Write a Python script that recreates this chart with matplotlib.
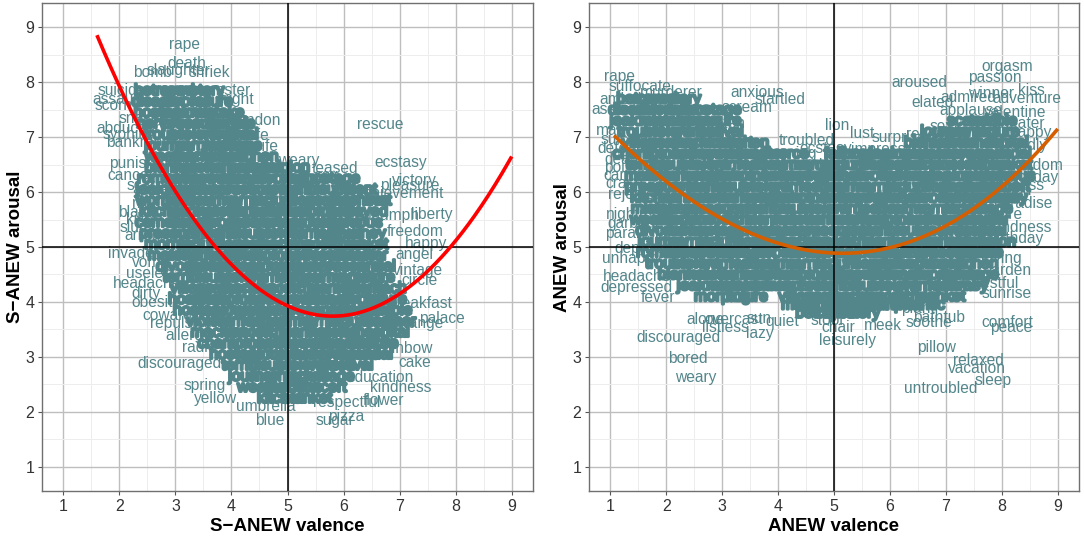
import numpy as np
import matplotlib
matplotlib.use("Agg")
import matplotlib.pyplot as plt
import matplotlib.patheffects as pe
from matplotlib.ticker import MultipleLocator

plt.rcParams['font.family'] = ['Liberation Sans', 'DejaVu Sans']

TEAL = "#53868B"

# ---------------- S-ANEW (left panel): readable words ----------------
s_words = ["rape", "death", "slaughter", "bomb", "shriek", "suicide", "monster",
           "assault", "fright", "scorn", "snake", "abandon", "abduction", "syphilis",
           "strife", "bankrupt", "knife", "weary", "punishment", "teased", "sex",
           "cancer", "scared", "spider", "mutilate", "blackmail", "killer", "slum",
           "arrogant", "invader", "vomit", "useless", "headache", "dirty", "obesity",
           "coward", "repulsive", "allergy", "radio", "discouraged", "spring", "yellow",
           "umbrella", "blue", "sugar", "pizza", "respectful", "flower", "kindness",
           "education", "cake", "rainbow", "orange", "palace", "breakfast", "circle",
           "vintage", "angel", "happy", "freedom", "triumph", "liberty", "achievement",
           "pleasure", "victory", "ecstasy", "rescue"]
s_val = [3.16, 3.2, 3.05, 2.6, 3.6, 2.05, 3.85,
         1.95, 4.1, 1.9, 2.35, 4.35, 2.2, 2.15,
         4.38, 2.3, 4.54, 5.2, 2.54, 5.85, 5.7,
         2.2, 2.54, 2.62, 2.71, 2.55, 2.4, 2.3,
         2.6, 2.25, 2.55, 2.59, 2.5, 2.48, 2.66,
         2.85, 3.1, 3.23, 3.43, 3.07, 3.52, 3.71,
         4.62, 4.68, 5.84, 6.05, 6.05, 6.71, 7.02,
         6.66, 7.27, 7.1, 7.36, 7.75, 7.36, 7.36,
         7.32, 7.27, 7.48, 7.27, 6.9, 7.57, 7.0,
         7.18, 7.27, 7.02, 6.66]
s_aro = [8.68, 8.34, 8.22, 8.17, 8.17, 7.85, 7.85,
         7.68, 7.68, 7.57, 7.33, 7.3, 7.15, 7.05,
         7.03, 6.9, 6.83, 6.57, 6.52, 6.43, 6.3,
         6.3, 6.12, 5.97, 5.8, 5.62, 5.5, 5.36,
         5.21, 4.88, 4.72, 4.52, 4.34, 4.15, 3.99,
         3.75, 3.61, 3.39, 3.17, 2.88, 2.48, 2.25,
         2.1, 1.85, 1.85, 1.92, 2.17, 2.21, 2.45,
         2.63, 2.9, 3.15, 3.61, 3.7, 3.97, 4.39,
         4.57, 4.86, 5.06, 5.28, 5.57, 5.59, 5.97,
         6.12, 6.21, 6.54, 7.23]

# S-ANEW dense (overlapping, unreadable) words: arousal row -> valences
s_dense_rows = [
    (7.85, [2.8, 3.3]),
    (7.65, [2.7, 3.2, 3.65]),
    (7.45, [2.75, 3.25, 3.75]),
    (7.25, [2.8, 3.3, 3.8, 4.0]),
    (7.05, [2.85, 3.35, 3.85, 4.05]),
    (6.85, [2.9, 3.4, 3.9, 4.15]),
    (6.65, [2.95, 3.45, 3.95, 4.4]),
    (6.45, [2.9, 3.4, 3.9, 4.4, 4.8]),
    (6.25, [2.85, 3.35, 3.85, 4.35, 4.85, 5.35, 5.8]),
    (6.05, [2.8, 3.3, 3.8, 4.3, 4.8, 5.3, 5.8, 6.2]),
    (5.85, [2.75, 3.25, 3.75, 4.25, 4.75, 5.25, 5.75, 6.25, 6.4]),
    (5.65, [2.8, 3.3, 3.8, 4.3, 4.8, 5.3, 5.8, 6.25]),
    (5.45, [2.85, 3.35, 3.85, 4.35, 4.85, 5.35, 5.85, 6.2]),
    (5.25, [2.9, 3.4, 3.9, 4.4, 4.9, 5.4, 5.9, 6.3]),
    (5.05, [2.95, 3.45, 3.95, 4.45, 4.95, 5.45, 5.95, 6.35]),
    (4.85, [3.0, 3.5, 4.0, 4.5, 5.0, 5.5, 6.0, 6.3]),
    (4.65, [3.1, 3.6, 4.1, 4.6, 5.1, 5.6, 6.1, 6.45]),
    (4.45, [3.2, 3.7, 4.2, 4.7, 5.2, 5.7, 6.2, 6.5]),
    (4.25, [3.3, 3.8, 4.3, 4.8, 5.3, 5.8, 6.3, 6.6]),
    (4.05, [3.35, 3.85, 4.35, 4.85, 5.35, 5.85, 6.35, 6.75]),
    (3.85, [3.45, 3.95, 4.45, 4.95, 5.45, 5.95, 6.45, 6.8]),
    (3.65, [3.6, 4.1, 4.6, 5.1, 5.6, 6.1, 6.6, 6.8]),
    (3.45, [3.8, 4.3, 4.8, 5.3, 5.8, 6.3, 6.7]),
    (3.25, [4.0, 4.5, 5.0, 5.5, 6.0, 6.5, 6.6]),
    (3.05, [4.1, 4.6, 5.1, 5.6, 6.1, 6.4]),
    (2.85, [4.25, 4.75, 5.25, 5.75, 6.1]),
    (2.65, [4.4, 4.85, 5.35, 5.8]),
    (2.45, [4.6, 5.1, 5.6]),
    (2.25, [4.9, 5.35]),
]

# ---------------- ANEW (right panel): readable words ----------------
a_words = ["rape", "suffocate", "murderer", "anxious", "ambulance", "startled",
           "assault", "scream", "frighten", "mad", "lion", "lust", "surprised",
           "troubled", "ecstasy", "impressed", "warning", "morbid", "suicide",
           "defeated", "dead", "poison", "cancer", "crash", "rejected", "nightmare",
           "garbage", "paralysis", "deprived", "unhappy", "headache", "depressed",
           "fever", "regretful", "alone", "overcast", "listless", "sun", "quiet",
           "lazy", "discouraged", "bored", "weary", "stool", "chair", "leisurely",
           "meek", "soothe", "bathtub", "plant", "comfort", "peace", "pillow",
           "relaxed", "vacation", "sleep", "untroubled", "sunrise", "restful",
           "garden", "loving", "birthday", "kindness", "nature", "paradise", "beach",
           "success", "holiday", "freedom", "friendly", "happy", "theater",
           "valentine", "applause", "adventure", "admired", "winner", "kiss",
           "elated", "sexy", "rescue", "aroused", "orgasm", "passion"]
a_val = [1.16, 1.53, 2.1, 3.62, 1.48, 4.03,
         1.1, 3.44, 2.96, 1.02, 5.05, 5.51, 6.24,
         4.51, 4.85, 5.94, 4.2, 4.39, 1.25,
         1.3, 1.2, 1.3, 1.3, 1.25, 1.45, 1.55,
         1.45, 1.45, 1.6, 1.39, 1.48, 1.47,
         1.86, 2.82, 2.7, 3.2, 3.05, 3.66, 4.07,
         3.68, 2.21, 2.39, 2.53, 4.87, 5.08, 5.24,
         5.87, 6.69, 6.87, 6.5, 8.09, 8.16, 6.83,
         7.58, 7.56, 7.85, 6.9, 8.08, 7.92,
         8.1, 7.99, 8.25, 8.34, 7.99, 8.38, 8.15,
         8.27, 8.58, 8.6, 8.38, 8.52, 8.34,
         8.24, 7.45, 8.45, 7.4, 7.81, 8.52,
         6.76, 7.0, 6.7, 6.53, 8.1, 7.88]
a_aro = [8.1, 7.92, 7.81, 7.81, 7.68, 7.68,
         7.5, 7.54, 7.25, 7.12, 7.21, 7.06, 6.99,
         6.94, 6.79, 6.77, 6.7, 6.48, 6.95,
         6.8, 6.6, 6.45, 6.3, 6.15, 5.95, 5.6,
         5.42, 5.25, 4.97, 4.79, 4.46, 4.26,
         4.08, 4.3, 3.68, 3.68, 3.54, 3.7, 3.64,
         3.43, 3.35, 2.97, 2.63, 3.66, 3.54, 3.3,
         3.57, 3.63, 3.72, 3.88, 3.63, 3.54, 3.17,
         2.94, 2.79, 2.57, 2.43, 4.15, 4.34,
         4.57, 4.79, 5.15, 5.35, 5.6, 5.79, 6.03,
         6.12, 6.26, 6.48, 6.85, 7.08, 7.24,
         7.45, 7.48, 7.7, 7.72, 7.79, 7.85,
         7.63, 7.2, 7.05, 7.99, 8.28, 8.08]

a_dense_rows = [
    (7.70, [1.65, 2.05]),
    (7.50, [1.45, 1.9, 2.4, 2.85]),
    (7.30, [1.5, 2.0, 2.5, 2.8, 7.5, 7.85]),
    (7.10, [1.55, 2.05, 2.55, 2.95, 7.0, 7.4, 7.9]),
    (6.90, [1.6, 2.1, 2.6, 3.1, 3.4, 6.7, 7.1, 7.6, 8.0]),
    (6.70, [1.65, 2.15, 2.65, 3.15, 3.65, 4.1, 5.2, 5.65, 6.15, 6.65, 7.15, 7.65, 8.05]),
    (6.50, [1.7, 2.2, 2.7, 3.2, 3.7, 4.2, 4.7, 5.2, 5.7, 6.2, 6.7, 7.2, 7.7, 8.1]),
    (6.30, [1.75, 2.25, 2.75, 3.25, 3.75, 4.25, 4.75, 5.25, 5.75, 6.25, 6.75, 7.25, 7.75, 8.1]),
    (6.10, [1.8, 2.3, 2.8, 3.3, 3.8, 4.3, 4.8, 5.3, 5.8, 6.3, 6.8, 7.3, 7.8, 8.05]),
    (5.90, [1.8, 2.3, 2.8, 3.3, 3.8, 4.3, 4.8, 5.3, 5.8, 6.3, 6.8, 7.3, 7.8, 7.95]),
    (5.70, [1.85, 2.35, 2.85, 3.35, 3.85, 4.35, 4.85, 5.35, 5.85, 6.35, 6.85, 7.35, 7.8]),
    (5.50, [1.85, 2.35, 2.85, 3.35, 3.85, 4.35, 4.85, 5.35, 5.85, 6.35, 6.85, 7.35, 7.65]),
    (5.30, [1.9, 2.4, 2.9, 3.4, 3.9, 4.4, 4.9, 5.4, 5.9, 6.4, 6.9, 7.4, 7.65]),
    (5.10, [1.95, 2.45, 2.95, 3.45, 3.95, 4.45, 4.95, 5.45, 5.95, 6.45, 6.95, 7.45, 7.65]),
    (4.90, [2.0, 2.5, 3.0, 3.5, 4.0, 4.5, 5.0, 5.5, 6.0, 6.5, 7.0, 7.5, 7.6]),
    (4.70, [2.05, 2.55, 3.05, 3.55, 4.05, 4.55, 5.05, 5.55, 6.05, 6.55, 7.05, 7.5]),
    (4.50, [2.3, 2.8, 3.3, 3.8, 4.3, 4.8, 5.3, 5.8, 6.3, 6.8, 7.3, 7.45]),
    (4.30, [2.7, 3.2, 3.7, 4.1, 4.6, 5.1, 5.6, 6.1, 6.6, 7.1, 7.3]),
    (4.10, [3.0, 3.4, 4.4, 4.9, 5.4, 5.9, 6.4, 6.9]),
    (3.95, [4.55, 5.0, 5.5, 6.0, 6.45]),
    (3.80, [4.85, 5.25]),
]

# filler vocabulary for the unreadable overlapping labels
dense_vocab = ["betrayed", "cemetery", "disaster", "divorce", "failure", "hostage",
               "jealousy", "mistake", "nervous", "pressure", "scandal", "terrible",
               "trouble", "violent", "worried", "festival", "journey", "morning",
               "picture", "village", "weather", "machine", "concert", "kitchen",
               "blanket", "material", "stomach", "hospital", "champion", "romantic"]

# points
s_curve_x = [1.6, 3.3, 3.73, 5.75, 7.93, 9.0]
s_curve_y = [8.86, 5.54, 4.98, 3.77, 5.0, 6.66]
a_curve_x = [1.07, 2.82, 5.05, 6.0, 7.7, 9.0]
a_curve_y = [7.03, 5.61, 4.9, 4.98, 5.85, 7.15]


def draw_panel(ax, words, vals, aros, dense_rows, cx, cy, curve_color, xlabel, ylabel):
    ax.set_xlim(0.62, 9.38)
    ax.set_ylim(0.56, 9.44)
    ax.xaxis.set_major_locator(MultipleLocator(1))
    ax.yaxis.set_major_locator(MultipleLocator(1))
    ax.xaxis.set_minor_locator(MultipleLocator(0.5))
    ax.yaxis.set_minor_locator(MultipleLocator(0.5))
    ax.grid(which='major', color='#BEBEBE', lw=1.0)
    ax.grid(which='minor', color='#EDEDED', lw=0.7)
    ax.set_axisbelow(True)
    for s in ax.spines.values():
        s.set_color('#707070')
        s.set_linewidth(1.0)
    ax.tick_params(which='major', length=3, width=0.8, color='#555555',
                   labelsize=11.5, labelcolor='#333333', pad=2.5)
    ax.tick_params(which='minor', length=0)

    stroke = [pe.withStroke(linewidth=2.0, foreground=TEAL)]
    k = 0
    for y, xs in dense_rows:
        for x in xs:
            ax.text(x, y, dense_vocab[k % len(dense_vocab)], ha='center', va='center',
                    fontsize=11.2, color=TEAL, clip_on=True, zorder=2,
                    path_effects=stroke)
            k += 1
    for w, x, y in zip(words, vals, aros):
        ax.text(x, y, w, ha='center', va='center', fontsize=11.2, color=TEAL,
                clip_on=True, zorder=2.5)

    ax.axvline(5, color='black', lw=1.1, zorder=3)
    ax.axhline(5, color='black', lw=1.1, zorder=3)

    coef = np.polyfit(cx, cy, 3)
    xx = np.linspace(min(cx), max(cx), 300)
    ax.plot(xx, np.polyval(coef, xx), color=curve_color, lw=2.6, zorder=4,
            solid_capstyle='butt')

    ax.set_xlabel(xlabel, fontsize=13.5, fontweight='bold', labelpad=3)
    ax.set_ylabel(ylabel, fontsize=13.5, fontweight='bold', labelpad=1)


fig = plt.figure(figsize=(10.84, 5.36), dpi=100)
ax1 = fig.add_axes([42 / 1084, 45 / 536, 491 / 1084, 488 / 536])
ax2 = fig.add_axes([589 / 1084, 45 / 536, 490 / 1084, 488 / 536])

draw_panel(ax1, s_words, s_val, s_aro, s_dense_rows, s_curve_x, s_curve_y,
           '#FF0000', 'S\u2212ANEW valence', 'S\u2212ANEW arousal')
draw_panel(ax2, a_words, a_val, a_aro, a_dense_rows, a_curve_x, a_curve_y,
           '#D55E00', 'ANEW valence', 'ANEW arousal')

fig.savefig('out.png', dpi=100)
